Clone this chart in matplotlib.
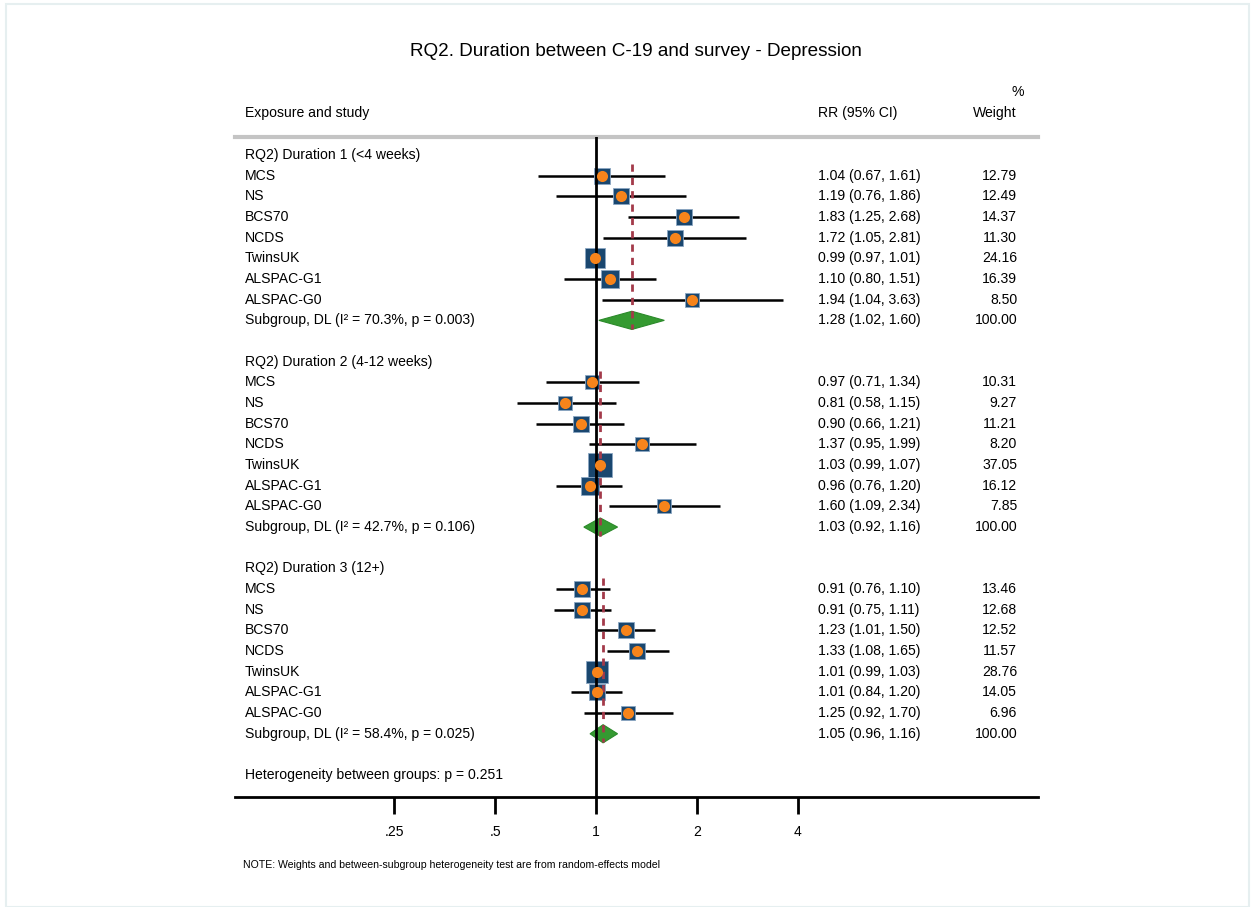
import numpy as np
import matplotlib
matplotlib.use("Agg")
import matplotlib.pyplot as plt
from matplotlib.patches import Polygon, Rectangle
from matplotlib.transforms import blended_transform_factory

plt.rcParams['font.family'] = ['Liberation Sans', 'DejaVu Sans']

# ---- data ----
studies = ["MCS", "NS", "BCS70", "NCDS", "TwinsUK", "ALSPAC-G1", "ALSPAC-G0"]
group_titles = ["RQ2) Duration 1 (<4 weeks)",
                "RQ2) Duration 2 (4-12 weeks)",
                "RQ2) Duration 3 (12+)"]

rr_g1 = [1.04, 1.19, 1.83, 1.72, 0.99, 1.10, 1.94]
lo_g1 = [0.67, 0.76, 1.25, 1.05, 0.97, 0.80, 1.04]
hi_g1 = [1.61, 1.86, 2.68, 2.81, 1.01, 1.51, 3.63]
w_g1 = [12.79, 12.49, 14.37, 11.30, 24.16, 16.39, 8.50]

rr_g2 = [0.97, 0.81, 0.90, 1.37, 1.03, 0.96, 1.60]
lo_g2 = [0.71, 0.58, 0.66, 0.95, 0.99, 0.76, 1.09]
hi_g2 = [1.34, 1.15, 1.21, 1.99, 1.07, 1.20, 2.34]
w_g2 = [10.31, 9.27, 11.21, 8.20, 37.05, 16.12, 7.85]

rr_g3 = [0.91, 0.91, 1.23, 1.33, 1.01, 1.01, 1.25]
lo_g3 = [0.76, 0.75, 1.01, 1.08, 0.99, 0.84, 0.92]
hi_g3 = [1.10, 1.11, 1.50, 1.65, 1.03, 1.20, 1.70]
w_g3 = [13.46, 12.68, 12.52, 11.57, 28.76, 14.05, 6.96]

pooled_rr = [1.28, 1.03, 1.05]
pooled_lo = [1.02, 0.92, 0.96]
pooled_hi = [1.60, 1.16, 1.16]
i2 = ["70.3%", "42.7%", "58.4%"]
pvals = ["0.003", "0.106", "0.025"]
het_between = "0.251"

xticks = [0.25, 0.5, 1, 2, 4]
xticklabels = [".25", ".5", "1", "2", "4"]

groups = [(rr_g1, lo_g1, hi_g1, w_g1),
          (rr_g2, lo_g2, hi_g2, w_g2),
          (rr_g3, lo_g3, hi_g3, w_g3)]

# ---- figure ----
W, H = 1251, 907
fig = plt.figure(figsize=(W / 100, H / 100), dpi=100)
fig.patches.append(Rectangle((6 / W, 0), (W - 8) / W, (H - 4) / H, transform=fig.transFigure,
                             fill=False, edgecolor='#e6eff0', lw=1.5))

ax = fig.add_axes([235 / W, (H - 797) / H, 803 / W, 660 / H])
ax.set_xscale('log', base=2)
ax.set_xlim(2 ** -3.581, 2 ** 4.385)
row_h = 20.67
ax.set_ylim((797 - 155) / row_h, (137 - 155) / row_h)
for s in ['top', 'left', 'right']:
    ax.spines[s].set_visible(False)
ax.spines['bottom'].set_linewidth(2)
ax.set_yticks([])
fs = 10.1
ax.set_xticks(xticks)
ax.set_xticklabels(xticklabels, fontsize=fs)
ax.minorticks_off()
ax.tick_params(axis='x', length=12, width=2, pad=8.5)

# header line and reference line
ax.axhline((137 - 155) / row_h, color='#c4c4c4', lw=3, clip_on=False)
ax.axvline(1, color='black', lw=2, zorder=4)

tr = blended_transform_factory(fig.transFigure, ax.transData)
navy = '#1a476f'
orange = '#f7841b'
green = '#359a31'

row = 0
for g, (rr, lo, hi, w) in enumerate(groups):
    ax.text(245 / W, row, group_titles[g], transform=tr, fontsize=fs, va='center')
    first = row + 1
    for i, name in enumerate(studies):
        row += 1
        ax.text(245 / W, row, name, transform=tr, fontsize=fs, va='center')
        ax.plot([lo[i], hi[i]], [row, row], color='black', lw=1.8, zorder=2,
                solid_capstyle='butt')
        side = (5.5 + 2.9 * np.sqrt(w[i])) * 0.72
        ax.plot(rr[i], row, marker='s', ms=side, mfc=navy, mec='#8aa6c2', mew=0.6,
                zorder=3, ls='none')
        ax.plot(rr[i], row, marker='o', ms=8.0, mfc=orange, mec=orange, mew=0,
                zorder=5, ls='none')
        ax.text(818 / W, row, f"{rr[i]:.2f} ({lo[i]:.2f}, {hi[i]:.2f})", transform=tr,
                fontsize=fs, va='center')
        ax.text(1017 / W, row, f"{w[i]:.2f}", transform=tr, fontsize=fs, va='center',
                ha='right')
    row += 1
    # pooled diamond
    hh = 0.44
    dia = Polygon([[pooled_lo[g], row], [pooled_rr[g], row - hh],
                   [pooled_hi[g], row], [pooled_rr[g], row + hh]],
                  closed=True, facecolor=green, edgecolor='#2b8a2a', lw=0.8, zorder=3)
    ax.add_patch(dia)
    ax.plot([pooled_rr[g], pooled_rr[g]], [first - 0.55, row + 0.42], color='#a33a4a',
            lw=2, ls=(0, (2.6, 2.2)), zorder=4)
    ax.text(245 / W, row, f"Subgroup, DL (I\u00b2 = {i2[g]}, p = {pvals[g]})", transform=tr,
            fontsize=fs, va='center')
    ax.text(818 / W, row, f"{pooled_rr[g]:.2f} ({pooled_lo[g]:.2f}, {pooled_hi[g]:.2f})",
            transform=tr, fontsize=fs, va='center')
    ax.text(1017 / W, row, "100.00", transform=tr, fontsize=fs, va='center', ha='right')
    row += 2

ax.text(245 / W, row, f"Heterogeneity between groups: p = {het_between}", transform=tr,
        fontsize=fs, va='center')

# column headers and title
def px_text(x, y, s, **kw):
    fig.text(x / W, 1 - y / H, s, **kw)

px_text(636, 52, "RQ2. Duration between C-19 and survey - Depression", fontsize=13.6,
        ha='center', va='center')
px_text(245, 113, "Exposure and study", fontsize=fs, va='center')
px_text(818, 113, "RR (95% CI)", fontsize=fs, va='center')
px_text(1017, 113, "Weight", fontsize=fs, va='center', ha='right')
px_text(1024, 92, "%", fontsize=fs, va='center', ha='right')
px_text(243, 865, "NOTE: Weights and between-subgroup heterogeneity test are from random-effects model",
        fontsize=7.6, va='center')

fig.savefig("out.png", dpi=100)
